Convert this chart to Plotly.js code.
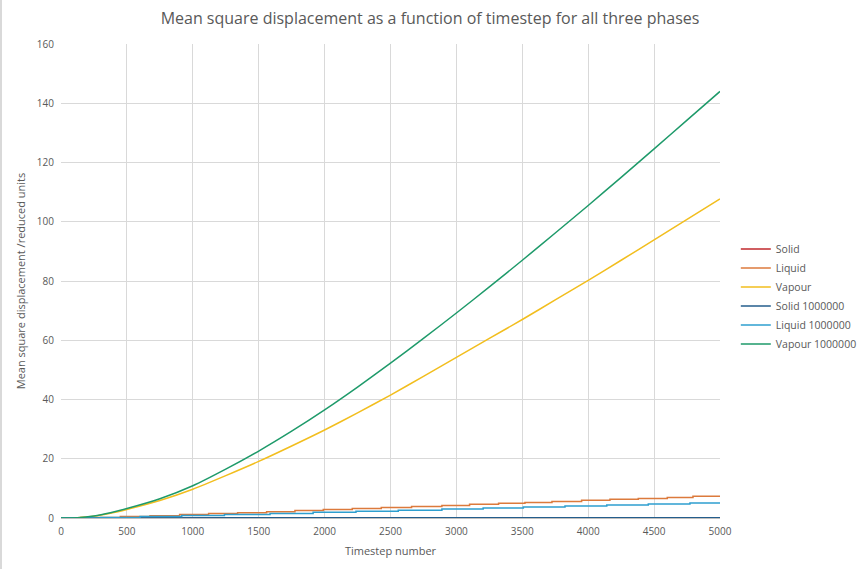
<!DOCTYPE html>
<html>
<head>
<meta charset="utf-8">
<script src="https://cdn.plot.ly/plotly-3.0.1.min.js"></script>
<style>
  body { margin: 0; background: #fff; }
  #myGraph1 { width: 856px; height: 569px; border-left: 2px solid #d9d9d9; }
</style>
</head>
<body>
<div id="myGraph1"></div>
<script>
let myGraph1 = document.getElementById('myGraph1');

// smooth curves, sampled every 250 timesteps (125 at the start)
const tSmooth = [0, 125, 250, 375, 500, 750, 1000, 1250, 1500, 1750, 2000, 2250, 2500,
                 2750, 3000, 3250, 3500, 3750, 4000, 4250, 4500, 4750, 5000];
const vapourMil = [0, 0.1, 0.7, 1.8, 3.2, 6.5, 10.9, 16.5, 22.6, 29.3, 36.5, 44.2, 52.3,
                   60.6, 69.2, 78.0, 87.0, 96.2, 105.5, 115.0, 124.6, 134.3, 144.0];
const vapour = [0, 0.1, 0.6, 1.6, 2.9, 5.9, 9.7, 14.3, 19.1, 24.3, 29.7, 35.5, 41.5,
                47.8, 54.2, 60.6, 67.0, 73.6, 80.2, 87.0, 93.9, 100.8, 107.7];

// stepped curves
const tLiquid = [0, 150, 450, 675, 900, 1120, 1340, 1560, 1775, 1990, 2210, 2430, 2660,
                 2890, 3100, 3320, 3520, 3725, 3950, 4165, 4380, 4600, 4795, 5000];
const liquid = [0, 0.2, 0.5, 0.8, 1.2, 1.5, 1.8, 2.15, 2.5, 2.85, 3.2, 3.55, 3.9,
                4.25, 4.6, 4.95, 5.25, 5.6, 5.95, 6.3, 6.6, 6.95, 7.3, 7.3];
const tLiquidMil = [0, 300, 600, 916, 1240, 1586, 1913, 2238, 2559, 2890, 3203, 3508,
                    3824, 4141, 4456, 4772, 5000];
const liquidMil = [0, 0.15, 0.5, 0.85, 1.2, 1.55, 1.9, 2.3, 2.65, 3.0, 3.35, 3.7,
                   4.05, 4.4, 4.7, 5.05, 5.05];

const tSolid = [0, 1000, 2000, 3000, 4000, 5000];
const solid = [0, 0.05, 0.05, 0.05, 0.05, 0.05];
const solidMil = [0, 0.1, 0.1, 0.1, 0.1, 0.1];

const labels = ["Solid", "Liquid", "Vapour", "Solid 1000000", "Liquid 1000000", "Vapour 1000000"];
const colors = ['#C0282D', '#DC7A3C', '#F2BE1E', '#245E8C', '#2E9FCF', '#1E9A6A'];
const xs = [tSolid, tLiquid, tSmooth, tSolid, tLiquidMil, tSmooth];
const ys = [solid, liquid, vapour, solidMil, liquidMil, vapourMil];
const shapes = ['linear', 'hv', 'spline', 'linear', 'hv', 'spline'];

let traces = [];
labels.forEach((label, index) => {
    traces.push({
        type: 'scatter',
        mode: 'lines',
        name: label,
        x: xs[index],
        y: ys[index],
        line: { color: colors[index], width: 1.5, shape: shapes[index], smoothing: 0.6 }
    });
});

const grey = '#595959';

let layout = {
    width: 856,
    height: 569,
    margin: { l: 59, r: 138, t: 44, b: 51, autoexpand: false },
    paper_bgcolor: '#ffffff',
    plot_bgcolor: '#ffffff',
    font: { family: 'Open Sans, sans-serif', color: grey, size: 10 },
    title: {
        text: 'Mean square displacement as a function of timestep for all three phases',
        font: { size: 16, color: grey, family: 'Open Sans, sans-serif' },
        x: 0.5, xanchor: 'center',
        y: 0.968, yanchor: 'middle'
    },
    xaxis: {
        title: { text: 'Timestep number', font: { size: 11, color: grey }, standoff: 10 },
        range: [0, 5000],
        dtick: 500,
        tickformat: 'd',
        showgrid: true,
        gridcolor: '#d9d9d9',
        zeroline: false,
        showline: true,
        linecolor: '#bfbfbf',
        ticks: '',
        ticklabelstandoff: 4,
        automargin: false,
        tickfont: { size: 10, color: grey }
    },
    yaxis: {
        title: { text: 'Mean square displacement /reduced units', font: { size: 11, color: grey }, standoff: 8 },
        range: [0, 160],
        dtick: 20,
        showgrid: true,
        gridcolor: '#d9d9d9',
        zeroline: false,
        showline: false,
        ticks: '',
        ticklabelstandoff: 6,
        automargin: false,
        tickfont: { size: 10, color: grey }
    },
    legend: {
        x: 1.024, xanchor: 'left',
        y: 0.598, yanchor: 'top',
        font: { size: 10.5, color: grey },
        bgcolor: 'rgba(0,0,0,0)',
        tracegroupgap: 0
    },
    showlegend: true
};

Plotly.newPlot(myGraph1, traces, layout, { displayModeBar: false, staticPlot: true });
</script>
</body>
</html>
